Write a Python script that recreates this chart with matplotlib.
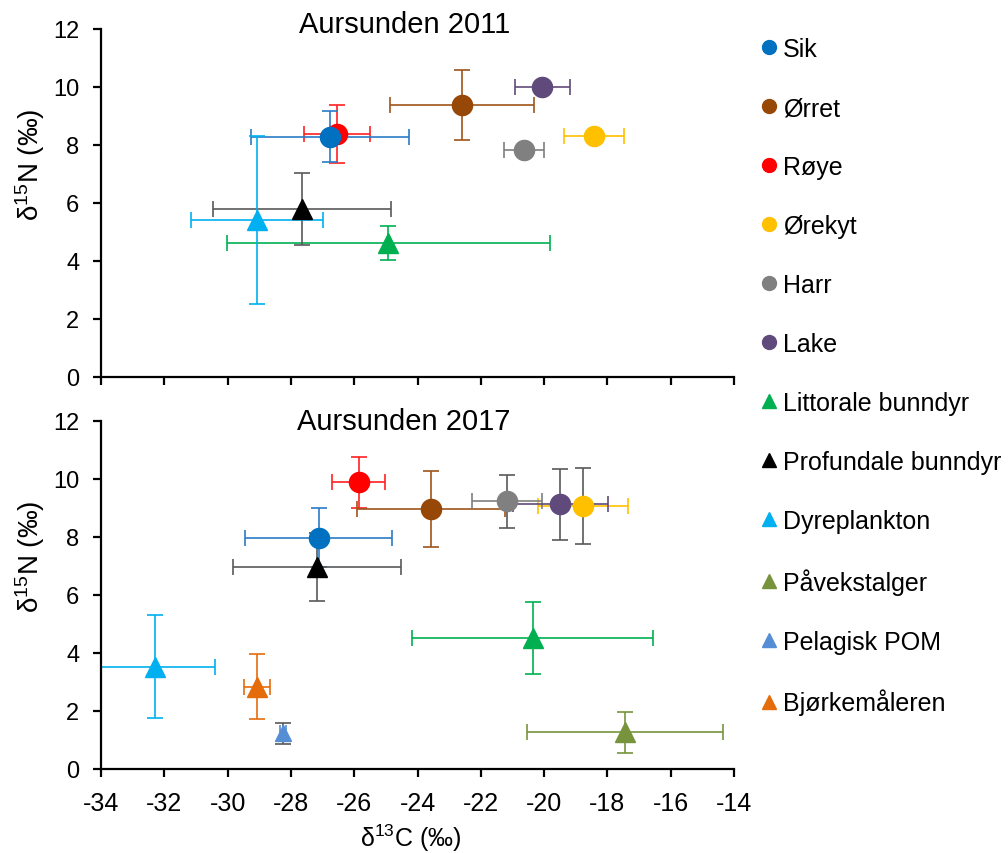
import numpy as np
import matplotlib
matplotlib.use("Agg")
import matplotlib.pyplot as plt
from matplotlib.lines import Line2D

plt.rcParams['font.family'] = ['Liberation Sans', 'DejaVu Sans']
plt.rcParams['axes.unicode_minus'] = False

nan = np.nan

groups = ['Sik', 'Ørret', 'Røye', 'Ørekyt', 'Harr', 'Lake',
          'Littorale bunndyr', 'Profundale bunndyr', 'Dyreplankton',
          'Påvekstalger', 'Pelagisk POM', 'Bjørkemåleren']
markers = ['o', 'o', 'o', 'o', 'o', 'o', '^', '^', '^', '^', '^', '^']
colors = ['#0070C0', '#974706', '#FF0000', '#FFC000', '#808080', '#604A7B',
          '#00B050', '#000000', '#00B0F0', '#77933C', '#558ED5', '#E46C0A']

# 2011 (mean and sd of d13C / d15N)
c13_2011 = [-26.77, -22.60, -26.55, -18.43, -20.63, -20.06, -24.92, -27.64, -29.08, nan, nan, nan]
c13sd_2011 = [2.50, 2.27, 1.04, 0.95, 0.64, 0.87, 5.10, 2.81, 2.09, nan, nan, nan]
n15_2011 = [8.29, 9.38, 8.38, 8.32, 7.83, 9.99, 4.62, 5.79, 5.41, nan, nan, nan]
n15sd_2011 = [0.89, 1.21, 1.00, 0.0, 0.0, 0.0, 0.58, 1.25, 2.89, nan, nan, nan]

# 2017
c13_2017 = [-27.12, -23.57, -25.86, -18.78, -21.17, -19.49, -20.36, -27.18, -32.28, -17.45, -28.26, -29.08]
c13sd_2017 = [2.32, 2.33, 0.84, 1.42, 1.10, 1.50, 3.80, 2.65, 1.88, 3.10, 0.10, 0.41]
n15_2017 = [7.97, 8.95, 9.87, 9.06, 9.22, 9.11, 4.50, 6.96, 3.52, 1.25, 1.21, 2.83]
n15sd_2017 = [1.03, 1.30, 0.89, 1.30, 0.91, 1.22, 1.25, 1.17, 1.77, 0.71, 0.35, 1.11]

# error bar colours (x, y) per group and year
xerr_col_2011 = ['#2A7CC7', '#A0541A', '#FF2020', '#FFC000', '#7F7F7F', '#604A7B',
                 '#00B050', '#595959', '#00B0F0', None, None, None]
yerr_col_2011 = xerr_col_2011
xerr_col_2017 = ['#2A7CC7', '#A0541A', '#FF2020', '#FFC000', '#7F7F7F', '#604A7B',
                 '#00B050', '#595959', '#00B0F0', '#77933C', '#558ED5', '#E46C0A']
yerr_col_2017 = ['#2A7CC7', '#A0541A', '#FF2020', '#595959', '#595959', '#595959',
                 '#00B050', '#595959', '#00B0F0', '#77933C', '#595959', '#E46C0A']

draw_order = [2, 0, 1, 3, 4, 5, 6, 7, 8, 9, 10, 11]

fig = plt.figure(figsize=(10.08, 8.54), dpi=100)
ax1 = fig.add_axes([0.1002, 0.5574, 0.628, 0.4075])
ax2 = fig.add_axes([0.1002, 0.0989, 0.628, 0.4073])


def panel(ax, xs, xsd, ys, ysd, xcol, ycol, title, title_y):
    for i in draw_order:
        if np.isnan(xs[i]):
            continue
        ms = 12 if groups[i] == 'Pelagisk POM' else 14.5
        if xsd[i] > 0:
            ax.errorbar(xs[i], ys[i], xerr=xsd[i], fmt='none', ecolor=xcol[i],
                        elinewidth=1.2, capsize=5.5, capthick=1.2, zorder=2)
        if ysd[i] > 0:
            ax.errorbar(xs[i], ys[i], yerr=ysd[i], fmt='none', ecolor=ycol[i],
                        elinewidth=1.2, capsize=5.5, capthick=1.2, zorder=2)
        ax.plot(xs[i], ys[i], marker=markers[i], color=colors[i], ms=ms,
                ls='none', zorder=3)
    ax.set_xlim(-34, -14)
    ax.set_ylim(0, 12)
    ax.set_xticks(np.arange(-34, -13, 2))
    ax.set_yticks(np.arange(0, 13, 2))
    for s in ['top', 'right']:
        ax.spines[s].set_visible(False)
    for s in ['left', 'bottom']:
        ax.spines[s].set_linewidth(1.6)
    ax.tick_params(direction='out', length=5.5, width=1.6, pad=11)
    ax.tick_params(axis='x', labelsize=18)
    ax.tick_params(axis='y', labelsize=17, pad=10)
    ax.set_ylabel('δ$\\mathregular{^{15}}$N (‰)', fontsize=20)
    ax.yaxis.set_label_coords(-0.085, 0.612)
    ax.text(0.479, title_y, title, transform=ax.transAxes, ha='center',
            va='baseline', fontsize=21)


panel(ax1, c13_2011, c13sd_2011, n15_2011, n15sd_2011,
      xerr_col_2011, yerr_col_2011, 'Aursunden 2011', 0.991)
panel(ax2, c13_2017, c13sd_2017, n15_2017, n15sd_2017,
      xerr_col_2017, yerr_col_2017, 'Aursunden 2017', 0.976)
ax1.tick_params(axis='x', labelbottom=False)
ax2.set_xlabel('δ$\\mathregular{^{13}}$C (‰)', fontsize=18)
ax2.xaxis.set_label_coords(0.49, -0.152)

handles = [Line2D([], [], marker=m, color=c, ls='none', markersize=10)
           for m, c in zip(markers, colors)]
fig.legend(handles, groups, loc='upper left', bbox_to_anchor=(0.753, 0.9555),
           frameon=False, fontsize=18, handlelength=0.8, handletextpad=0.16,
           labelspacing=1.40, borderpad=0, borderaxespad=0)

fig.savefig('out.png', dpi=100)
